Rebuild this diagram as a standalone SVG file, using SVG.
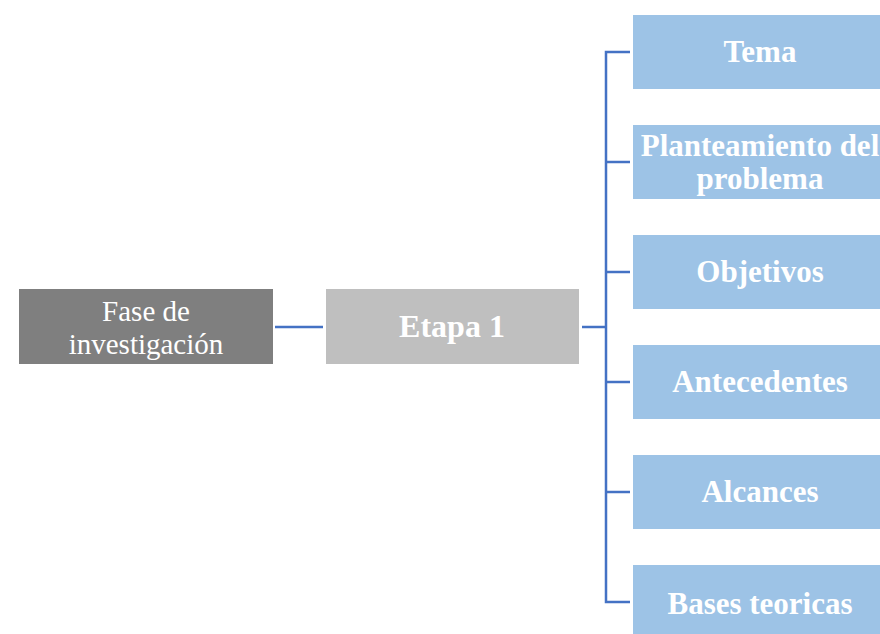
<svg xmlns="http://www.w3.org/2000/svg" width="880" height="634" viewBox="0 0 880 634">
<style>
  .t { font-family: "Liberation Serif", "Times New Roman", serif; fill: #ffffff; text-anchor: middle; }
  .b { font-weight: bold; font-size: 31px; }
  .blue { fill: #9dc3e6; }
  .conn { stroke: #4472c4; stroke-width: 2.5; fill: none; }
</style>
<rect width="880" height="634" fill="#ffffff"/>
<g id="connectors">
  <line class="conn" x1="275" y1="327" x2="323" y2="327"/>
  <line class="conn" x1="582" y1="327" x2="606" y2="327"/>
  <path class="conn" d="M630 52 H606 V602 H630"/>
  <line class="conn" x1="606" y1="162" x2="630" y2="162"/>
  <line class="conn" x1="606" y1="272" x2="630" y2="272"/>
  <line class="conn" x1="606" y1="382" x2="630" y2="382"/>
  <line class="conn" x1="606" y1="492" x2="630" y2="492"/>
</g>
<g id="fase">
  <rect x="19" y="289" width="254" height="75" fill="#7f7f7f"/>
  <text class="t" x="146" y="321" font-size="29">Fase de</text>
  <text class="t" x="146" y="354" font-size="29">investigación</text>
</g>
<g id="etapa1">
  <rect x="326" y="289" width="253" height="75" fill="#bfbfbf"/>
  <text class="t" x="452" y="337" font-size="32" font-weight="bold">Etapa 1</text>
</g>
<g id="tema">
  <rect class="blue" x="633" y="15" width="254" height="74"/>
  <text class="t b" x="760" y="62">Tema</text>
</g>
<g id="planteamiento">
  <rect class="blue" x="633" y="125" width="254" height="74"/>
  <text class="t b" x="760" y="156">Planteamiento del</text>
  <text class="t b" x="760" y="189">problema</text>
</g>
<g id="objetivos">
  <rect class="blue" x="633" y="235" width="254" height="74"/>
  <text class="t b" x="760" y="282">Objetivos</text>
</g>
<g id="antecedentes">
  <rect class="blue" x="633" y="345" width="254" height="74"/>
  <text class="t b" x="760" y="392">Antecedentes</text>
</g>
<g id="alcances">
  <rect class="blue" x="633" y="455" width="254" height="74"/>
  <text class="t b" x="760" y="502">Alcances</text>
</g>
<g id="bases">
  <rect class="blue" x="633" y="565" width="254" height="74"/>
  <text class="t b" x="760" y="614">Bases teoricas</text>
</g>
</svg>
